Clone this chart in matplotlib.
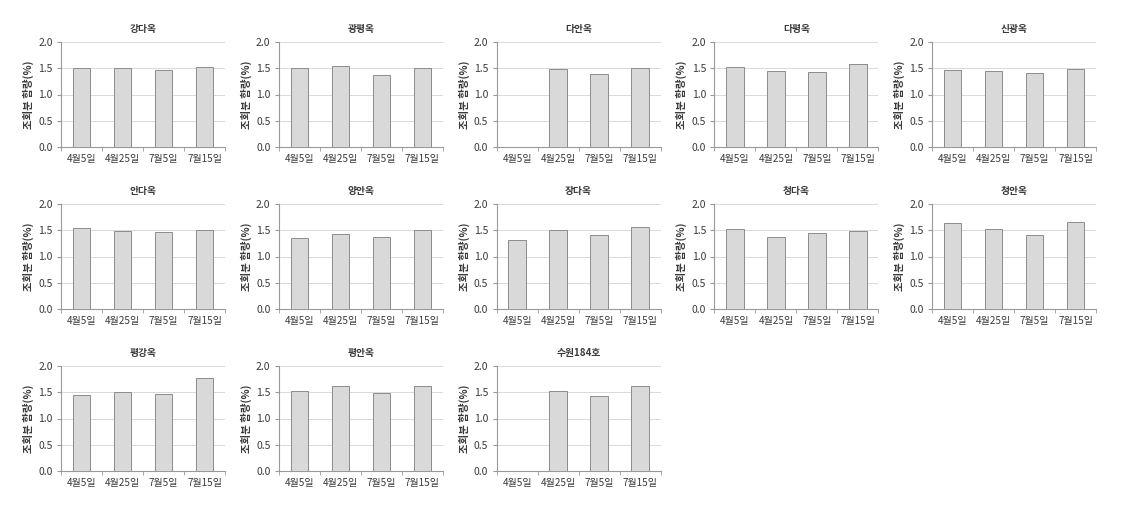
import numpy as np
import matplotlib.pyplot as plt

plt.rcParams['font.family'] = ['Noto Sans CJK KR', 'DejaVu Sans']

varieties = ['강다옥', '광평옥', '다안옥', '다평옥', '신광옥',
             '안다옥', '양안옥', '장다옥', '청다옥', '청안옥',
             '평강옥', '평안옥', '수원184호']
dates = ['4월5일', '4월25일', '7월5일', '7월15일']

# crude ash content (%), nan = not measured
ash = [
    [1.50, 1.51, 1.46, 1.53],
    [1.50, 1.54, 1.38, 1.51],
    [np.nan, 1.49, 1.39, 1.51],
    [1.52, 1.45, 1.43, 1.59],
    [1.47, 1.44, 1.41, 1.49],
    [1.54, 1.48, 1.47, 1.51],
    [1.35, 1.42, 1.37, 1.51],
    [1.32, 1.50, 1.41, 1.56],
    [1.53, 1.38, 1.44, 1.49],
    [1.63, 1.53, 1.41, 1.65],
    [1.45, 1.50, 1.47, 1.78],
    [1.52, 1.61, 1.48, 1.61],
    [np.nan, 1.53, 1.43, 1.61],
]

W, H = 1128, 526
fig = plt.figure(figsize=(W / 100, H / 100), dpi=100)

txt = '#3a3a3a'
x = np.arange(len(dates))
for i, (name, vals) in enumerate(zip(varieties, ash)):
    r, c = divmod(i, 5)
    left = 61 + c * 217.8
    top = 42 + r * 162
    ax = fig.add_axes([left / W, 1 - (top + 105) / H, 164 / W, 105 / H])
    ax.bar(x, vals, width=0.42, color='#d9d9d9', edgecolor='#8c8c8c', linewidth=0.7, zorder=3)
    ax.set_xlim(-0.5, 3.5)
    ax.set_ylim(0, 2.0)
    ax.set_yticks([0, 0.5, 1.0, 1.5, 2.0])
    ax.set_yticklabels(['0.0', '0.5', '1.0', '1.5', '2.0'])
    ax.set_xticks(x)
    ax.set_xticklabels(dates)
    ax.set_xticks(np.arange(-0.5, 4, 1), minor=True)
    ax.tick_params(axis='x', which='major', length=0, pad=5, labelsize=7.2, colors=txt)
    ax.tick_params(axis='x', which='minor', length=3, color='#999999', direction='out')
    ax.tick_params(axis='y', length=3, color='#999999', labelsize=7.5, labelcolor=txt, pad=3)
    ax.grid(axis='y', color='#d9d9d9', linewidth=0.7, zorder=0)
    for s in ['top', 'right']:
        ax.spines[s].set_visible(False)
    for s in ['left', 'bottom']:
        ax.spines[s].set_color('#999999')
        ax.spines[s].set_linewidth(0.8)
    ax.set_ylabel('조회분 함량(%)', fontsize=7.5, color=txt, fontweight='bold', labelpad=3)
    ax.set_title(name, fontsize=7, color=txt, fontweight='bold', pad=7)

fig.savefig('out.png', dpi=100, facecolor='white')
